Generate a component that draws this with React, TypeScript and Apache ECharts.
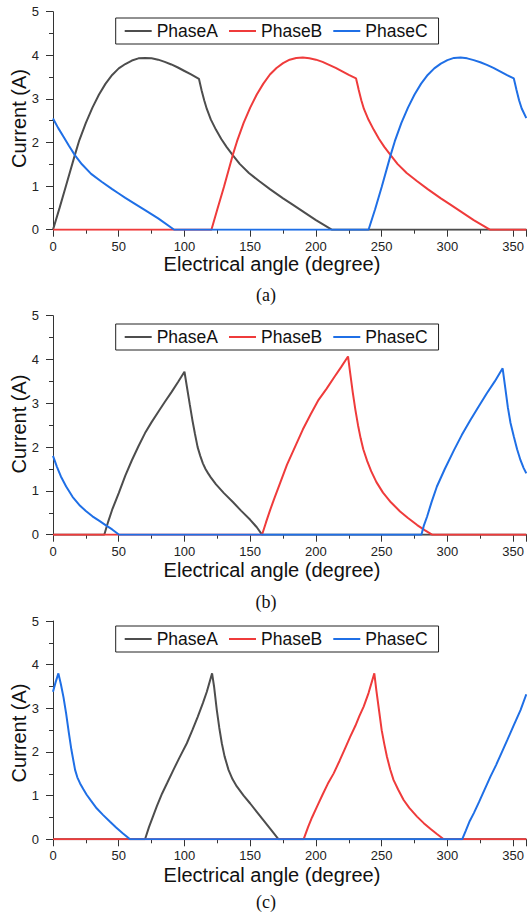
import { useEffect, useRef } from "react";
import * as echarts from "echarts";

type Pt = [number, number];

// Series names and colours
const PHASE_NAMES = ["PhaseA", "PhaseB", "PhaseC"];
const PHASE_COLORS = ["#4d4d4d", "#ef3b3b", "#1f6fe6"];

// Axis ranges
const X_MIN = 0;
const X_MAX = 360;
const X_STEP = 50;
const Y_MIN = 0;
const Y_MAX = 5;
const Y_STEP = 1;

const X_TITLE = "Electrical angle (degree)";
const Y_TITLE = "Current (A)";
const CAPTIONS = ["(a)", "(b)", "(c)"];

// ---- Case (a): phase currents [angle deg, current A] ----
const A_PHASE_A: Pt[] = [
  [0, 0], [5, 0.5], [10, 1.02], [16.6, 1.71], [20, 2.05], [25, 2.45], [30, 2.8],
  [35, 3.1], [40, 3.35], [45, 3.55], [50, 3.7], [55, 3.8], [60, 3.88], [65, 3.93],
  [70, 3.94], [75, 3.93], [80, 3.9], [85, 3.85], [90, 3.79], [95, 3.72], [100, 3.64],
  [105, 3.56], [111, 3.46], [112, 3.33], [113, 3.2], [115, 2.97], [117, 2.77],
  [120, 2.53], [124, 2.29], [128, 2.08], [132, 1.9], [136.7, 1.71], [142, 1.51],
  [149, 1.3], [157, 1.11], [165, 0.93], [175, 0.72], [182, 0.58], [190, 0.42],
  [200, 0.22], [212, 0], [360, 0],
];
const A_PHASE_B: Pt[] = [
  [0, 0], [120.5, 0], [125, 0.47], [130, 0.98], [136.7, 1.71], [140, 2.03],
  [145, 2.45], [150, 2.8], [155, 3.1], [160, 3.35], [165, 3.56], [170, 3.71],
  [175, 3.82], [180, 3.9], [185, 3.94], [190, 3.95], [195, 3.93], [200, 3.9],
  [205, 3.85], [210, 3.78], [215, 3.71], [220, 3.63], [225, 3.55], [230.5, 3.47],
  [231.5, 3.34], [232.5, 3.21], [234.5, 2.97], [236.5, 2.77], [240, 2.52],
  [244, 2.29], [248, 2.08], [252, 1.9], [256.8, 1.71], [262, 1.51], [269, 1.3],
  [277, 1.11], [285, 0.93], [295, 0.72], [302, 0.58], [310, 0.42], [320, 0.22],
  [332.3, 0], [360, 0],
];
const A_PHASE_C: Pt[] = [
  [0, 2.55], [4, 2.33], [8, 2.13], [12, 1.93], [16.6, 1.71], [22, 1.5], [29, 1.28],
  [37, 1.1], [45, 0.93], [50, 0.83], [55, 0.73], [62, 0.6], [70, 0.45], [80, 0.26],
  [92.2, 0], [240, 0], [245, 0.47], [250, 0.98], [256.8, 1.71], [260, 2.03],
  [265, 2.45], [270, 2.8], [275, 3.1], [280, 3.35], [285, 3.55], [290, 3.7],
  [295, 3.81], [300, 3.89], [305, 3.94], [310, 3.95], [315, 3.93], [320, 3.89],
  [325, 3.84], [330, 3.78], [335, 3.71], [340, 3.63], [345, 3.55], [350.5, 3.47],
  [351.5, 3.34], [352.5, 3.21], [354.5, 2.97], [356.5, 2.78], [360, 2.56],
];

// ---- Case (b) ----
const B_PHASE_A: Pt[] = [
  [0, 0], [39, 0], [42, 0.3], [45, 0.57], [50, 0.95], [55, 1.35], [60, 1.7],
  [65, 2.02], [70, 2.32], [75, 2.57], [80, 2.8], [85, 3.03], [90, 3.25],
  [95, 3.48], [100, 3.72], [102, 3.35], [104, 2.98], [106, 2.62], [108, 2.3],
  [110, 2.0], [112, 1.8], [114, 1.63], [116, 1.5], [118, 1.4], [120, 1.31],
  [124, 1.15], [130, 0.95], [137, 0.74], [143, 0.55], [150, 0.34], [155, 0.17],
  [159, 0], [360, 0],
];
const B_PHASE_B: Pt[] = [
  [0, 0], [159, 0], [162, 0.28], [165, 0.55], [168, 0.8], [172, 1.12], [178, 1.6],
  [184, 2.0], [190, 2.4], [196, 2.75], [202, 3.08], [208, 3.33], [214, 3.6],
  [219, 3.82], [224.4, 4.07], [226, 3.7], [228, 3.25], [230, 2.85], [232, 2.5],
  [234, 2.2], [236, 1.95], [239, 1.68], [242, 1.45], [246, 1.2], [251, 0.96],
  [257, 0.74], [264, 0.53], [270, 0.38], [277, 0.22], [283, 0.1], [288.3, 0],
  [360, 0],
];
const B_PHASE_C: Pt[] = [
  [0, 1.8], [3, 1.55], [6, 1.33], [10, 1.1], [15, 0.86], [20, 0.68], [25, 0.54],
  [30, 0.42], [35, 0.32], [40, 0.22], [45, 0.12], [50.3, 0], [280.2, 0], [282, 0.2],
  [284.5, 0.41], [288, 0.75], [292, 1.1], [298, 1.5], [305, 1.93], [311, 2.28],
  [317.5, 2.62], [324, 2.94], [330, 3.23], [336, 3.5], [342, 3.8], [344, 3.35],
  [346, 2.9], [348, 2.55], [350.5, 2.24], [353, 1.95], [355.6, 1.7], [358, 1.52],
  [360, 1.4],
];

// ---- Case (c) ----
const C_PHASE_A: Pt[] = [
  [0, 0], [70, 0], [73, 0.28], [76, 0.52], [79, 0.76], [83, 1.05], [87, 1.3],
  [91.6, 1.59], [96, 1.86], [101.8, 2.2], [106, 2.5], [110, 2.8], [114, 3.12],
  [117, 3.38], [121, 3.8], [122.5, 3.5], [124.6, 2.96], [126.5, 2.55], [128.4, 2.2],
  [130.5, 1.9], [133.5, 1.59], [136.5, 1.38], [139.8, 1.21], [145, 1.0],
  [150, 0.82], [155, 0.63], [160, 0.44], [165, 0.25], [171.6, 0], [360, 0],
];
const C_PHASE_B: Pt[] = [
  [0, 0], [190.6, 0], [194, 0.28], [197, 0.5], [200.8, 0.75], [205, 1.02],
  [209, 1.27], [213.5, 1.51], [218, 1.8], [222, 2.07], [226.1, 2.35], [230, 2.6],
  [233, 2.82], [236.3, 3.04], [240, 3.35], [244.4, 3.8], [246, 3.4], [248, 2.95],
  [250, 2.5], [252, 2.18], [254, 1.89], [256.5, 1.6], [259, 1.36], [262.5, 1.14],
  [266.7, 0.9], [271, 0.72], [276.9, 0.52], [282, 0.37], [287, 0.24], [292, 0.12],
  [297.2, 0], [360, 0],
];
const C_PHASE_C: Pt[] = [
  [0, 3.38], [2, 3.6], [4.1, 3.8], [6, 3.55], [8, 3.25], [10, 2.88], [12, 2.45],
  [14, 2.05], [16.8, 1.59], [18.5, 1.42], [20.6, 1.28], [23, 1.15], [25.6, 1.02],
  [29, 0.88], [33.2, 0.71], [38, 0.56], [43.4, 0.4], [48, 0.27], [53, 0.14],
  [58.6, 0], [311.2, 0], [314, 0.2], [317, 0.42], [320.1, 0.6], [324, 0.85],
  [328, 1.12], [332.8, 1.44], [337, 1.7], [341, 1.97], [345.5, 2.27], [350, 2.58],
  [355.6, 2.96], [360, 3.32],
];

const CASES: Pt[][][] = [
  [A_PHASE_A, A_PHASE_B, A_PHASE_C],
  [B_PHASE_A, B_PHASE_B, B_PHASE_C],
  [C_PHASE_A, C_PHASE_B, C_PHASE_C],
];

// Layout of the three stacked panels (pixels)
const LAYOUT = [
  { top: 11.7, height: 218, legendTop: 18, titleY: 264, yTitleY: 118.5, captionY: 295 },
  { top: 315.7, height: 219, legendTop: 324, titleY: 570, yTitleY: 424, captionY: 601.5 },
  { top: 621, height: 218.3, legendTop: 626, titleY: 875, yTitleY: 733, captionY: 902 },
];
const GRID_LEFT = 53;
const GRID_WIDTH = 474.3;

const SANS = '"Liberation Sans", Arial, sans-serif';
const SERIF = '"Liberation Serif", "Times New Roman", serif';
const AXIS_COLOR = "#333";

function buildOption(): echarts.EChartsOption {
  const grid = LAYOUT.map((p) => ({
    left: GRID_LEFT,
    top: p.top,
    width: GRID_WIDTH,
    height: p.height,
    containLabel: false,
  }));

  const xAxis = LAYOUT.map((_, i) => ({
    type: "value" as const,
    gridIndex: i,
    min: X_MIN,
    max: X_MAX,
    interval: X_STEP,
    axisLine: { show: true, onZero: false, lineStyle: { color: AXIS_COLOR, width: 1 } },
    axisTick: { show: true, inside: false, length: 7, lineStyle: { color: AXIS_COLOR, width: 1 } },
    minorTick: { show: true, splitNumber: 2, length: 4, lineStyle: { color: AXIS_COLOR, width: 1 } },
    splitLine: { show: false },
    minorSplitLine: { show: false },
    axisLabel: {
      margin: 10,
      fontSize: 13,
      fontFamily: SANS,
      color: "#222",
      showMaxLabel: false,
    },
  }));

  const yAxis = LAYOUT.map((_, i) => ({
    type: "value" as const,
    gridIndex: i,
    min: Y_MIN,
    max: Y_MAX,
    interval: Y_STEP,
    axisLine: { show: true, onZero: false, lineStyle: { color: AXIS_COLOR, width: 1 } },
    axisTick: { show: true, inside: false, length: 7, lineStyle: { color: AXIS_COLOR, width: 1 } },
    minorTick: { show: true, splitNumber: 2, length: 4, lineStyle: { color: AXIS_COLOR, width: 1 } },
    splitLine: { show: false },
    minorSplitLine: { show: false },
    axisLabel: { margin: 14, fontSize: 13, fontFamily: SANS, color: "#222" },
  }));

  const series: any[] = [];
  CASES.forEach((phases, i) => {
    phases.forEach((data, j) => {
      series.push({
        type: "line",
        name: PHASE_NAMES[j],
        xAxisIndex: i,
        yAxisIndex: i,
        data,
        symbol: "none",
        showSymbol: false,
        clip: true,
        lineStyle: { width: 2, color: PHASE_COLORS[j] },
        itemStyle: { color: PHASE_COLORS[j] },
      });
    });
  });

  // Plain line swatches in the legend
  const legend = LAYOUT.map((p) => ({
    left: 115.7,
    top: p.legendTop,
    orient: "horizontal" as const,
    data: PHASE_NAMES.map((name) => ({ name, icon: "rect" })),
    selectedMode: false,
    itemWidth: 27,
    itemHeight: 2,
    itemGap: 11,
    padding: [4, 11, 4, 9],
    borderColor: "#222",
    borderWidth: 1,
    borderRadius: 0,
    backgroundColor: "#fff",
    textStyle: { fontSize: 17.5, fontFamily: SANS, color: "#111", lineHeight: 18 },
  }));

  const graphic: any[] = [];
  LAYOUT.forEach((p, i) => {
    graphic.push({
      type: "text",
      x: 272,
      y: p.titleY,
      style: {
        text: X_TITLE,
        font: `20px ${SANS}`,
        fill: "#111",
        align: "center",
        verticalAlign: "middle",
        textAlign: "center",
        textVerticalAlign: "middle",
      },
    });
    graphic.push({
      type: "text",
      x: 19,
      y: p.yTitleY,
      rotation: Math.PI / 2,
      style: {
        text: Y_TITLE,
        font: `20px ${SANS}`,
        fill: "#111",
        align: "center",
        verticalAlign: "middle",
        textAlign: "center",
        textVerticalAlign: "middle",
      },
    });
    graphic.push({
      type: "text",
      x: 266,
      y: p.captionY,
      style: {
        text: CAPTIONS[i],
        font: `18px ${SERIF}`,
        fill: "#111",
        align: "center",
        verticalAlign: "middle",
        textAlign: "center",
        textVerticalAlign: "middle",
      },
    });
  });

  return {
    animation: false,
    backgroundColor: "#fff",
    grid,
    xAxis,
    yAxis,
    legend,
    series,
    graphic,
  } as echarts.EChartsOption;
}

export default function App() {
  const ref = useRef<HTMLDivElement | null>(null);

  useEffect(() => {
    if (!ref.current) return;
    const chart = echarts.init(ref.current, undefined, { renderer: "svg" });
    chart.setOption(buildOption());
    return () => {
      chart.dispose();
    };
  }, []);

  return (
    <div
      ref={ref}
      style={{
        position: "absolute",
        left: 0,
        top: 0,
        width: 527,
        height: 914,
        background: "#fff",
      }}
    />
  );
}
